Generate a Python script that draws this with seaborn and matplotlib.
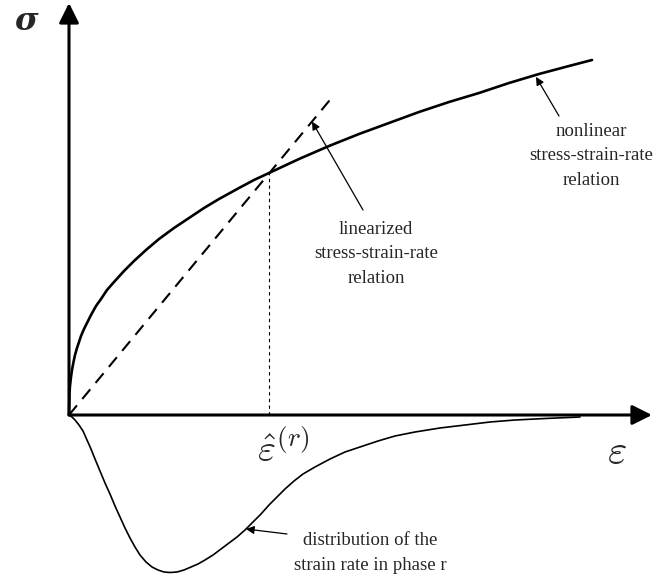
import numpy as np
import pandas as pd
import seaborn as sns
import matplotlib.pyplot as plt

sns.set_theme(style="white")
plt.rcParams["mathtext.fontset"] = "cm"

# curva no lineal tension - velocidad de deformacion
strain_nl = [0, 0.005, 0.01, 0.02, 0.03, 0.045, 0.06, 0.08, 0.10, 0.12, 0.15,
             0.18, 0.22, 0.27, 0.32, 0.38, 0.45, 0.55, 0.65, 0.77, 0.90, 1.05,
             1.20, 1.35, 1.50, 1.70, 1.85, 2.00, 2.30, 2.60, 2.90, 3.20, 3.50,
             3.80, 4.10, 4.40, 4.70, 5.00, 5.23]
stress_nl = [0, 0.22, 0.29, 0.38, 0.45, 0.53, 0.60, 0.67, 0.73, 0.79, 0.86,
             0.92, 1.00, 1.09, 1.16, 1.25, 1.33, 1.44, 1.54, 1.65, 1.76, 1.87,
             1.97, 2.07, 2.16, 2.27, 2.35, 2.42, 2.56, 2.69, 2.81, 2.92, 3.03,
             3.13, 3.22, 3.32, 3.41, 3.49, 3.55]

# recta linealizada
strain_lin = [0, 2.65]
stress_lin = [0, 3.20]

# punto de linealizacion
eps_hat = 2.00
sigma_hat = 2.42

# distribucion de la velocidad de deformacion (dibujada hacia abajo)
dist_x = [0, 0.03, 0.06, 0.10, 0.14, 0.18, 0.22, 0.26, 0.31, 0.36, 0.41, 0.46,
          0.51, 0.56, 0.61, 0.66, 0.71, 0.77, 0.83, 0.89, 0.95, 1.01, 1.08,
          1.15, 1.22, 1.29, 1.36, 1.44, 1.52, 1.60, 1.68, 1.76, 1.84, 1.92,
          2.00, 2.08, 2.16, 2.25, 2.34, 2.46, 2.61, 2.76, 2.91, 3.09, 3.26,
          3.46, 3.71, 3.96, 4.21, 4.46, 4.76, 5.11]
dist_y = [0, -0.02, -0.05, -0.10, -0.16, -0.25, -0.34, -0.44, -0.56, -0.68,
          -0.79, -0.91, -1.02, -1.13, -1.23, -1.32, -1.40, -1.47, -1.52, -1.55,
          -1.57, -1.575, -1.57, -1.55, -1.52, -1.49, -1.45, -1.40, -1.34,
          -1.28, -1.22, -1.15, -1.07, -0.99, -0.90, -0.82, -0.74, -0.66, -0.59,
          -0.52, -0.44, -0.37, -0.32, -0.26, -0.21, -0.17, -0.13, -0.10, -0.07,
          -0.05, -0.035, -0.02]

# extremos de los ejes
x_end = 5.83
y_end = 4.12

f = plt.figure(figsize=(6.61, 5.81), dpi=100)
ax = f.add_axes([0, 0, 1, 1])
ax.set_xlim(-0.69, 5.92)
ax.set_ylim(-1.66, 4.15)
ax.axis("off")

df_nl = pd.DataFrame({"strain": strain_nl, "stress": stress_nl})
df_lin = pd.DataFrame({"strain": strain_lin, "stress": stress_lin})
df_dist = pd.DataFrame({"strain": dist_x, "freq": dist_y})

sns.lineplot(data=df_nl, x="strain", y="stress", sort=False, color="black",
             lw=1.9, ax=ax)
sns.lineplot(data=df_lin, x="strain", y="stress", sort=False, color="black",
             lw=1.5, linestyle=(0, (6, 4)), ax=ax)
sns.lineplot(data=df_dist, x="strain", y="freq", sort=False, color="black",
             lw=1.2, ax=ax)
ax.plot([eps_hat, eps_hat], [0, sigma_hat], color="black", lw=0.8,
        linestyle=(0, (3, 3)))

# ejes con flechas
axis_arrow = dict(arrowstyle="-|>", lw=2.2, color="black", mutation_scale=30,
                  shrinkA=0, shrinkB=0)
ax.annotate("", xy=(x_end, 0), xytext=(0, 0), arrowprops=axis_arrow)
ax.annotate("", xy=(0, y_end), xytext=(0, 0), arrowprops=axis_arrow)

# etiquetas
ax.text(-0.43, 3.93, "σ", family="DejaVu Serif", style="italic",
        weight="bold", fontsize=23, ha="center", va="center")
ax.text(5.48, -0.37, r"$\boldsymbol{\varepsilon}$", fontsize=30,
        ha="center", va="center")
ax.text(2.14, -0.35, r"$\hat{\boldsymbol{\varepsilon}}^{(r)}$", fontsize=28,
        ha="center", va="center")

note_arrow = dict(arrowstyle="-|>", lw=0.9, color="black", mutation_scale=12,
                  shrinkA=0, shrinkB=0)
txt = dict(family="Liberation Serif", fontsize=13.5, ha="center",
           va="center", linespacing=1.6)

lin_tip = (2.43, np.interp(2.43, strain_lin, stress_lin))
ax.annotate("", xy=lin_tip, xytext=(2.94, 2.05), arrowprops=note_arrow)
ax.text(3.07, 1.61, "linearized\nstress-strain-rate\nrelation", **txt)

nl_tip = (4.67, np.interp(4.67, strain_nl, stress_nl) - 0.02)
ax.annotate("", xy=nl_tip, xytext=(4.90, 2.99), arrowprops=note_arrow)
ax.text(5.22, 2.59, "nonlinear\nstress-strain-rate\nrelation", **txt)

dist_tip = (1.77, np.interp(1.77, dist_x, dist_y))
ax.annotate("", xy=dist_tip, xytext=(2.18, -1.19), arrowprops=note_arrow)
ax.text(3.01, -1.38, "distribution of the\nstrain rate in phase r", **txt)

f.savefig("out.png", dpi=100)
